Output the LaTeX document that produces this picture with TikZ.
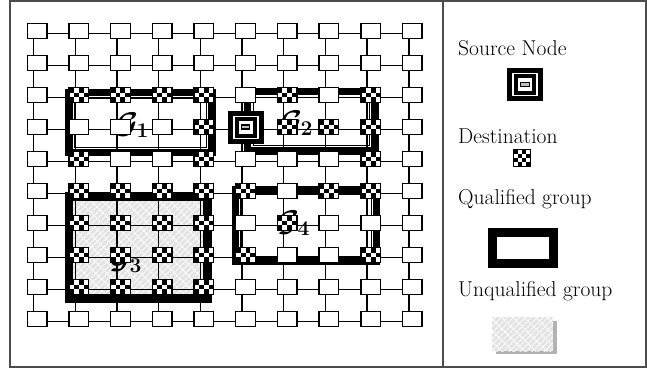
\RequirePackage{fix-cm}
\documentclass[tikz,border=0pt]{standalone}
\usetikzlibrary{patterns,patterns.meta}
\pgfdeclarelayer{back}
\pgfdeclarelayer{lnk}
\pgfdeclarelayer{grp}
\pgfsetlayers{back,lnk,grp,main}
\tikzset{
  box/.style={rectangle, draw, line width=1.4pt, fill=white, minimum width=19.6pt, minimum height=14.6pt, inner sep=0pt},
  dest/.style={path picture={\foreach \a/\b in {0/0,2/0,1/1,3/1,0/2,2/2}{\fill[black] ([xshift=\a*4.9pt,yshift=-\b*4.867pt]path picture bounding box.north west) rectangle ++(4.9pt,-4.867pt);}}},
  legdest/.style={rectangle, draw, line width=1.4pt, fill=white, minimum width=16.6pt, minimum height=16.6pt, inner sep=0pt,
    path picture={\foreach \a/\b in {0/0,2/0,1/1,3/1,0/2,2/2,1/3,3/3}{\fill[black] ([xshift=\a*4.15pt,yshift=-\b*4.15pt]path picture bounding box.north west) rectangle ++(4.15pt,-4.15pt);}}},
  srcout/.style={rectangle, draw, fill=white, line width=5pt, minimum width=31pt, minimum height=28pt, inner sep=0pt},
  srcmid/.style={rectangle, draw, fill=white, line width=4pt, minimum width=18pt, minimum height=17pt, inner sep=0pt},
  srcin/.style={rectangle, draw, fill=gray!50, line width=1.2pt, minimum width=8.5pt, minimum height=4pt, inner sep=0pt},
  lnkst/.style={line width=1.4pt},
  gline/.style={line width=7.5pt},
  gthin/.style={line width=0.9pt},
  upat/.style={fill=gray!22, postaction={pattern={Lines[angle=45,distance=4pt,line width=0.9pt]}, pattern color=white},
    postaction={pattern={Lines[angle=-45,distance=8pt,line width=0.7pt]}, pattern color=white}},
  glab/.style={anchor=base west, inner sep=0pt, font=\fontsize{30}{34}\selectfont\boldmath},
  leg/.style={anchor=base west, inner sep=0pt, font=\fontsize{21.5}{26}\selectfont},
  nd-3-2/.style=dest, nd-3-3/.style=dest, nd-3-4/.style=dest, nd-3-5/.style=dest, nd-3-7/.style=dest, nd-3-9/.style=dest,
  nd-4-5/.style=dest, nd-4-7/.style=dest, nd-4-8/.style=dest, nd-4-9/.style=dest, nd-4-6/.style=srcout,
  nd-5-2/.style=dest, nd-5-5/.style=dest, nd-5-9/.style=dest,
  nd-6-2/.style=dest, nd-6-3/.style=dest, nd-6-4/.style=dest, nd-6-5/.style=dest, nd-6-6/.style=dest, nd-6-8/.style=dest, nd-6-9/.style=dest,
  nd-7-2/.style=dest, nd-7-3/.style=dest, nd-7-4/.style=dest, nd-7-5/.style=dest, nd-7-7/.style=dest,
  nd-8-2/.style=dest, nd-8-3/.style=dest, nd-8-4/.style=dest, nd-8-5/.style=dest, nd-8-6/.style=dest, nd-8-9/.style=dest,
  nd-9-2/.style=dest, nd-9-3/.style=dest, nd-9-4/.style=dest, nd-9-5/.style=dest
}
\begin{document}
\begin{tikzpicture}[x=1pt,y=-1pt]
\useasboundingbox (0,0) rectangle (647,370);
% grid nodes
\foreach \ri in {1,...,10}{
  \foreach \ci in {1,...,10}{
    \node[box, nd-\ri-\ci/.try] (n-\ri-\ci) at ({37+41.7*(\ci-1)},{31+32*(\ri-1)}) {};
  }
}
\node[srcmid] (smid) at (n-4-6) {};
\node[srcin] (sin) at (n-4-6) {};
% links
\begin{pgfonlayer}{lnk}
\foreach \ri in {1,...,10}{
  \foreach \ci [evaluate=\ci as \cn using int(\ci+1)] in {1,...,9}{
    \draw[lnkst] ([yshift=-2.5pt]n-\ri-\ci.center) -- ([yshift=-2.5pt]n-\ri-\cn.center);
  }
}
\foreach \ci in {1,...,10}{
  \foreach \ri [evaluate=\ri as \rn using int(\ri+1)] in {1,...,9}{
    \draw[lnkst] ([xshift=-3.5pt]n-\ri-\ci.center) -- ([xshift=-3.5pt]n-\rn-\ci.center);
  }
}
\end{pgfonlayer}
% unqualified group fill
\begin{pgfonlayer}{back}
\fill[upat] (73,200) rectangle (203,294);
\end{pgfonlayer}
% groups
\begin{pgfonlayer}{grp}
\draw[gline] (69,92.5) rectangle (212,152.5);
\draw[gthin] (74.5,98) rectangle (206.5,147);
\draw[gline] (247.5,91.5) rectangle (375,151);
\draw[gthin] (253,97) rectangle (369.5,145.5);
\draw[gline, line width=8.5pt] (69,196.5) rectangle (207.5,298.5);
\draw[gline, line width=7pt] (235,189) rectangle (376.5,261.5);
\draw[gthin] (240.5,194.5) rectangle (371,256);
\node[glab] (g1) at (116,133) {$\mathcal{G}_1$};
\node[glab] (g2) at (280,131) {$\mathcal{G}_2$};
\node[glab] (g3) at (109,268) {$\mathcal{G}_3$};
\node[glab] (g4) at (277,231) {$\mathcal{G}_4$};
\end{pgfonlayer}
% frame
\draw[line width=1.2pt, black!70] (10,1) rectangle (646,367);
\draw[line width=1.2pt, black!70] (443,1) -- (443,367);
% legend
\node[leg] (t1) at (458,55) {Source Node};
\node[srcout] (ls) at (525,84.5) {};
\node[srcmid] (lsm) at (ls) {};
\node[srcin] (lsi) at (ls) {};
\node[leg] (t2) at (458,143) {Destination};
\node[legdest] (ld) at (522,158) {};
\node[leg] (t3) at (458,204) {Qualified group};
\draw[line width=9pt] (492.5,232.5) rectangle (553,263.5);
\node[leg] (t4) at (458,296) {Unqualified group};
\fill[gray!60] (496,321) rectangle (557,354);
\fill[upat] (492,317) rectangle (553,351);
\end{tikzpicture}
\end{document}
